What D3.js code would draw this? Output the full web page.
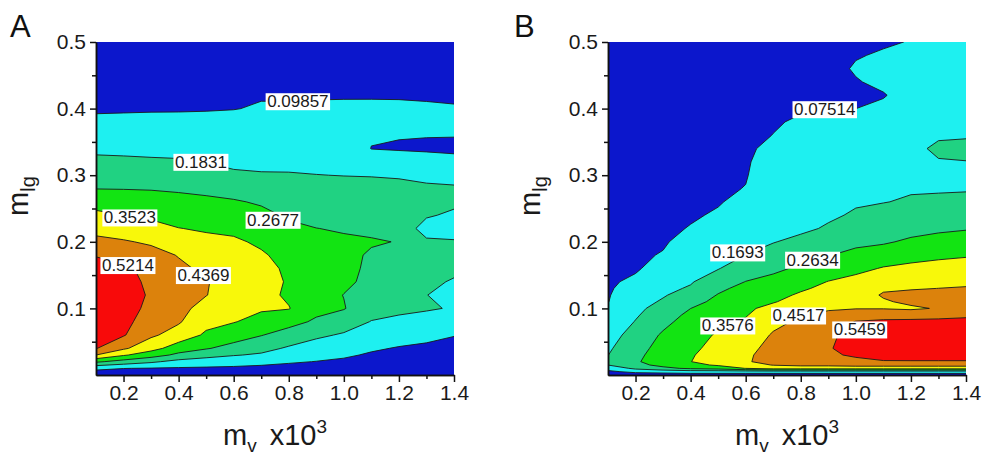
<!DOCTYPE html>
<html>
<head>
<meta charset="utf-8">
<script src="https://cdn.jsdelivr.net/npm/d3@7"></script>
<style>
  body { margin: 0; background: #fff; }
  text { font-family: "Liberation Sans", Arial, sans-serif; }
</style>
</head>
<body>
<div id="chart"></div>
<script>
// Dimensions
const width = 985;
const height = 474;

// m_v (x10^3) grid columns, shared by both panels
const mv = [0.1, 0.2, 0.3, 0.4, 0.5, 0.6, 0.7, 0.8, 0.9, 1.0, 1.1, 1.2, 1.3, 1.4];

// ---- Panel A ----
const mlgA = [0, 0.01, 0.02, 0.03, 0.04, 0.06, 0.08, 0.10, 0.12, 0.14, 0.16, 0.18, 0.20,
  0.22, 0.24, 0.26, 0.28, 0.30, 0.32, 0.34, 0.36, 0.38, 0.40, 0.42, 0.46, 0.50];
const levelsA = [0.09857, 0.1831, 0.2677, 0.3523, 0.4369, 0.5214];
// one column per m_v value, read from bottom (m_lg = 0) to top (m_lg = 0.5)
const surfaceA = [
  [0.05, 0.116, 0.282, 0.437, 0.525, 0.55, 0.58, 0.60, 0.59, 0.57, 0.545, 0.518, 0.458, 0.411, 0.370, 0.321, 0.266, 0.233, 0.200, 0.168, 0.139, 0.109, 0.092, 0.082, 0.061, 0.040],
  [0.05, 0.100, 0.234, 0.362, 0.449, 0.528, 0.550, 0.565, 0.565, 0.550, 0.535, 0.492, 0.444, 0.398, 0.352, 0.308, 0.265, 0.231, 0.197, 0.166, 0.138, 0.110, 0.093, 0.083, 0.062, 0.040],
  [0.05, 0.095, 0.197, 0.306, 0.383, 0.450, 0.470, 0.495, 0.510, 0.505, 0.500, 0.465, 0.426, 0.380, 0.337, 0.300, 0.263, 0.228, 0.193, 0.164, 0.138, 0.111, 0.094, 0.084, 0.063, 0.040],
  [0.05, 0.091, 0.157, 0.248, 0.310, 0.403, 0.445, 0.460, 0.468, 0.462, 0.452, 0.433, 0.394, 0.354, 0.322, 0.290, 0.258, 0.224, 0.190, 0.163, 0.137, 0.112, 0.094, 0.084, 0.063, 0.041],
  [0.05, 0.088, 0.144, 0.211, 0.274, 0.339, 0.377, 0.409, 0.439, 0.441, 0.422, 0.396, 0.371, 0.344, 0.314, 0.283, 0.250, 0.215, 0.181, 0.158, 0.135, 0.113, 0.095, 0.085, 0.064, 0.042],
  [0.05, 0.085, 0.133, 0.188, 0.238, 0.307, 0.356, 0.380, 0.400, 0.410, 0.400, 0.385, 0.365, 0.334, 0.305, 0.275, 0.236, 0.194, 0.169, 0.151, 0.133, 0.115, 0.097, 0.088, 0.068, 0.045],
  [0.05, 0.081, 0.120, 0.173, 0.208, 0.271, 0.327, 0.361, 0.378, 0.383, 0.375, 0.362, 0.339, 0.313, 0.287, 0.259, 0.224, 0.188, 0.169, 0.153, 0.136, 0.120, 0.103, 0.095, 0.075, 0.050],
  [0.05, 0.077, 0.106, 0.139, 0.173, 0.235, 0.294, 0.356, 0.340, 0.345, 0.340, 0.325, 0.305, 0.283, 0.258, 0.234, 0.211, 0.187, 0.170, 0.154, 0.138, 0.122, 0.107, 0.091, 0.075, 0.055],
  [0.05, 0.073, 0.097, 0.121, 0.146, 0.198, 0.256, 0.290, 0.300, 0.305, 0.302, 0.295, 0.285, 0.2685, 0.247, 0.226, 0.205, 0.184, 0.169, 0.154, 0.140, 0.125, 0.109, 0.093, 0.077, 0.060],
  [0.05, 0.069, 0.088, 0.108, 0.130, 0.174, 0.224, 0.272, 0.266, 0.282, 0.285, 0.281, 0.277, 0.262, 0.242, 0.221, 0.201, 0.182, 0.167, 0.153, 0.139, 0.124, 0.109, 0.094, 0.080, 0.065],
  [0.05, 0.064, 0.077, 0.091, 0.107, 0.145, 0.180, 0.215, 0.238, 0.250, 0.256, 0.262, 0.272, 0.258, 0.243, 0.225, 0.205, 0.180, 0.140, 0.097, 0.105, 0.110, 0.107, 0.095, 0.083, 0.068],
  [0.05, 0.061, 0.072, 0.083, 0.094, 0.128, 0.166, 0.200, 0.215, 0.228, 0.238, 0.250, 0.266, 0.252, 0.237, 0.222, 0.205, 0.175, 0.137, 0.092, 0.102, 0.112, 0.108, 0.094, 0.085, 0.070],
  [0.05, 0.059, 0.068, 0.077, 0.087, 0.115, 0.155, 0.190, 0.184, 0.200, 0.210, 0.205, 0.200, 0.140, 0.195, 0.200, 0.192, 0.170, 0.130, 0.088, 0.101, 0.111, 0.105, 0.093, 0.086, 0.072],
  [0.05, 0.057, 0.064, 0.071, 0.078, 0.101, 0.150, 0.178, 0.165, 0.176, 0.200, 0.215, 0.195, 0.120, 0.165, 0.205, 0.192, 0.158, 0.121, 0.084, 0.101, 0.110, 0.103, 0.090, 0.085, 0.073]
];
// where each level label sits (data units)
const labelMvA  = [0.833, 0.481, 0.743, 0.223, 0.490, 0.216];
const labelMlgA = [0.411, 0.320, 0.233, 0.2365, 0.150, 0.165];

// ---- Panel B ----
const mlgB = [0, 0.005, 0.01, 0.015, 0.02, 0.03, 0.04, 0.06, 0.08, 0.09, 0.10, 0.11, 0.12, 0.13, 0.14,
  0.16, 0.18, 0.20, 0.22, 0.24, 0.26, 0.28, 0.30, 0.32, 0.34, 0.36, 0.38, 0.40, 0.42, 0.44, 0.46, 0.48, 0.50];
const levelsB = [0.07514, 0.1693, 0.2634, 0.3576, 0.4517, 0.5459];
const surfaceB = [
  [0.03, 0.06, 0.106, 0.17, 0.188, 0.168, 0.157, 0.132, 0.107, 0.095, 0.082, 0.073, 0.070, 0.067, 0.064, 0.058, 0.053, 0.048, 0.045, 0.042, 0.040, 0.038, 0.036, 0.034, 0.032, 0.030, 0.029, 0.027, 0.026, 0.025, 0.024, 0.022, 0.020],
  [0.03, 0.095, 0.19, 0.235, 0.25, 0.24, 0.228, 0.205, 0.173, 0.160, 0.150, 0.136, 0.122, 0.105, 0.090, 0.066, 0.060, 0.055, 0.051, 0.048, 0.045, 0.043, 0.041, 0.039, 0.037, 0.035, 0.033, 0.031, 0.029, 0.027, 0.025, 0.023, 0.021],
  [0.03, 0.106, 0.24, 0.29, 0.32, 0.31, 0.298, 0.275, 0.24, 0.22, 0.20, 0.179, 0.162, 0.149, 0.135, 0.108, 0.081, 0.065, 0.060, 0.056, 0.053, 0.050, 0.047, 0.045, 0.043, 0.041, 0.039, 0.036, 0.034, 0.032, 0.029, 0.026, 0.023],
  [0.03, 0.12, 0.28, 0.33, 0.356, 0.35, 0.34, 0.32, 0.30, 0.285, 0.263, 0.235, 0.206, 0.178, 0.162, 0.145, 0.128, 0.110, 0.079, 0.067, 0.062, 0.058, 0.055, 0.052, 0.049, 0.046, 0.043, 0.040, 0.037, 0.034, 0.031, 0.028, 0.025],
  [0.03, 0.12, 0.30, 0.37, 0.40, 0.395, 0.385, 0.368, 0.337, 0.32, 0.302, 0.285, 0.268, 0.245, 0.22, 0.165, 0.145, 0.124, 0.103, 0.083, 0.070, 0.065, 0.061, 0.058, 0.055, 0.052, 0.049, 0.046, 0.043, 0.040, 0.037, 0.033, 0.030],
  [0.03, 0.12, 0.36, 0.42, 0.445, 0.44, 0.43, 0.40, 0.368, 0.352, 0.338, 0.324, 0.308, 0.29, 0.265, 0.22, 0.17, 0.152, 0.135, 0.118, 0.095, 0.077, 0.071, 0.068, 0.064, 0.061, 0.058, 0.055, 0.051, 0.047, 0.043, 0.039, 0.035],
  [0.03, 0.12, 0.40, 0.455, 0.475, 0.48, 0.475, 0.46, 0.43, 0.41, 0.39, 0.35, 0.33, 0.305, 0.285, 0.248, 0.21, 0.165, 0.155, 0.145, 0.135, 0.125, 0.115, 0.105, 0.092, 0.076, 0.07, 0.066, 0.062, 0.058, 0.054, 0.05, 0.046],
  [0.03, 0.12, 0.40, 0.47, 0.495, 0.505, 0.51, 0.495, 0.465, 0.445, 0.425, 0.40, 0.37, 0.345, 0.325, 0.275, 0.235, 0.195, 0.15, 0.14, 0.131, 0.122, 0.114, 0.106, 0.098, 0.09, 0.082, 0.07, 0.066, 0.062, 0.058, 0.054, 0.05],
  [0.03, 0.12, 0.40, 0.47, 0.50, 0.53, 0.54, 0.53, 0.49, 0.465, 0.445, 0.42, 0.40, 0.38, 0.36, 0.31, 0.26, 0.22, 0.18, 0.155, 0.145, 0.136, 0.127, 0.118, 0.109, 0.10, 0.09, 0.072, 0.067, 0.063, 0.059, 0.055, 0.051],
  [0.03, 0.12, 0.40, 0.48, 0.52, 0.56, 0.575, 0.575, 0.55, 0.50, 0.448, 0.44, 0.43, 0.41, 0.39, 0.33, 0.285, 0.245, 0.215, 0.18, 0.16, 0.15, 0.14, 0.13, 0.12, 0.11, 0.095, 0.075, 0.068, 0.072, 0.08, 0.072, 0.065],
  [0.03, 0.12, 0.40, 0.48, 0.54, 0.575, 0.595, 0.60, 0.57, 0.49, 0.449, 0.447, 0.456, 0.446, 0.415, 0.365, 0.30, 0.255, 0.23, 0.205, 0.166, 0.155, 0.145, 0.135, 0.125, 0.115, 0.10, 0.085, 0.072, 0.085, 0.095, 0.08, 0.07],
  [0.03, 0.12, 0.40, 0.48, 0.54, 0.58, 0.60, 0.61, 0.58, 0.48, 0.445, 0.46, 0.465, 0.448, 0.43, 0.38, 0.325, 0.275, 0.24, 0.215, 0.18, 0.16, 0.15, 0.145, 0.14, 0.125, 0.11, 0.102, 0.095, 0.092, 0.09, 0.082, 0.077],
  [0.03, 0.12, 0.40, 0.48, 0.54, 0.58, 0.60, 0.61, 0.58, 0.50, 0.455, 0.47, 0.468, 0.452, 0.438, 0.39, 0.34, 0.29, 0.25, 0.22, 0.183, 0.162, 0.155, 0.162, 0.19, 0.155, 0.135, 0.125, 0.117, 0.11, 0.104, 0.098, 0.092],
  [0.03, 0.12, 0.40, 0.48, 0.54, 0.58, 0.60, 0.61, 0.585, 0.52, 0.47, 0.475, 0.47, 0.456, 0.44, 0.395, 0.35, 0.30, 0.258, 0.228, 0.197, 0.16, 0.162, 0.167, 0.195, 0.16, 0.14, 0.13, 0.122, 0.115, 0.108, 0.102, 0.096]
];
const labelMvB  = [0.887, 0.571, 0.843, 0.535, 0.792, 1.014];
const labelMlgB = [0.399, 0.184, 0.173, 0.0743, 0.0893, 0.0683];

// Axis ticks
const xMajor = [0.2, 0.4, 0.6, 0.8, 1.0, 1.2, 1.4];
const xMinor = [0.3, 0.5, 0.7, 0.9, 1.1, 1.3];
const yMajor = [0.1, 0.2, 0.3, 0.4, 0.5];
const yMinor = [0.05, 0.15, 0.25, 0.35, 0.45];

// band colours, lowest band first
const bandColors = ["#0c17cc", "#1ef0f0", "#20d282", "#12e412", "#f8f80a", "#dc820c", "#f80a0a"];

const svg = d3.select("#chart").append("svg")
    .attr("width", width)
    .attr("height", height);

function drawPanel(opt) {
    const x = d3.scaleLinear().domain([0.1, 1.4]).range([opt.left, opt.left + 358]);
    const y = d3.scaleLinear().domain([0, 0.5]).range([375, 42]);

    const n = mv.length, m = opt.mlg.length;
    const values = [];
    for (let j = 0; j < m; j++) for (let i = 0; i < n; i++) values.push(opt.surface[i][j]);

    // grid index -> data value (grid point i sits at i + 0.5 in contour space)
    const gx = d3.scaleLinear().domain(d3.range(n).map(i => i + 0.5)).range(mv);
    const gy = d3.scaleLinear().domain(d3.range(m).map(j => j + 0.5)).range(opt.mlg);
    const path = d3.geoPath(d3.geoTransform({
        point(px, py) { this.stream.point(x(gx(px)), y(gy(py))); }
    }));

    const bands = d3.contours().size([n, m]).thresholds(opt.levels)(values);

    const clipId = "clip" + opt.name;
    svg.append("clipPath").attr("id", clipId)
      .append("rect")
        .attr("x", x(0.1)).attr("y", y(0.5))
        .attr("width", x(1.4) - x(0.1)).attr("height", y(0) - y(0.5));

    const plot = svg.append("g").attr("clip-path", `url(#${clipId})`);
    plot.append("rect")
        .attr("x", x(0.1)).attr("y", y(0.5))
        .attr("width", x(1.4) - x(0.1)).attr("height", y(0) - y(0.5))
        .attr("fill", bandColors[0]);

    plot.selectAll("path.band")
      .data(bands)
      .enter().append("path")
        .attr("class", "band")
        .attr("d", path)
        .attr("fill", (d, i) => bandColors[i + 1])
        .attr("fill-rule", "evenodd");

    plot.selectAll("path.line")
      .data(bands)
      .enter().append("path")
        .attr("class", "line")
        .attr("d", path)
        .attr("fill", "none")
        .attr("stroke", "#1a1a1a")
        .attr("stroke-width", 0.9);

    // level labels in white boxes
    const lab = svg.append("g").selectAll("g")
      .data(opt.levels)
      .enter().append("g");
    lab.append("rect").attr("fill", "#fff");
    lab.append("text")
        .attr("x", (d, k) => x(opt.labelMv[k]))
        .attr("y", (d, k) => y(opt.labelMlg[k]))
        .attr("dy", "0.35em")
        .attr("text-anchor", "middle")
        .attr("font-size", 17)
        .attr("fill", "#1a1a1a")
        .text(d => String(d));
    lab.each(function() {
        const b = d3.select(this).select("text").node().getBBox();
        d3.select(this).select("rect")
            .attr("x", b.x - 1.5).attr("y", b.y + 1)
            .attr("width", b.width + 3).attr("height", b.height - 2);
    });

    // axes
    const styleAxis = g => {
        g.selectAll(".domain, line").attr("stroke", "#111").attr("stroke-width", 1.5);
        g.selectAll("text").attr("font-size", 21).attr("fill", "#1a1a1a")
            .attr("font-family", "Liberation Sans, Arial, sans-serif");
    };
    svg.append("g").attr("transform", `translate(0,${y(0)})`)
        .call(d3.axisBottom(x).tickValues(xMinor).tickSize(4).tickSizeOuter(0).tickFormat(""))
        .call(styleAxis);
    svg.append("g").attr("transform", `translate(0,${y(0)})`)
        .call(d3.axisBottom(x).tickValues(xMajor).tickSize(7).tickSizeOuter(0).tickPadding(3)
            .tickFormat(d3.format(".1f")))
        .call(styleAxis);
    svg.append("g").attr("transform", `translate(${x(0.1)},0)`)
        .call(d3.axisLeft(y).tickValues(yMinor).tickSize(4).tickSizeOuter(0).tickFormat(""))
        .call(styleAxis);
    svg.append("g").attr("transform", `translate(${x(0.1)},0)`)
        .call(d3.axisLeft(y).tickValues(yMajor).tickSize(6).tickSizeOuter(0).tickPadding(4)
            .tickFormat(d3.format(".1f")))
        .call(styleAxis);

    // axis titles
    const yt = svg.append("text")
        .attr("transform", `translate(${opt.left - 68},196) rotate(-90)`)
        .attr("text-anchor", "middle")
        .attr("font-size", 29)
        .attr("fill", "#1a1a1a");
    yt.append("tspan").text("m");
    yt.append("tspan").attr("dy", 7).attr("font-size", 20).text("lg");

    const xt = svg.append("text")
        .attr("x", (x(0.1) + x(1.4)) / 2)
        .attr("y", 445)
        .attr("text-anchor", "middle")
        .attr("font-size", 29)
        .attr("fill", "#1a1a1a");
    xt.append("tspan").text("m");
    xt.append("tspan").attr("dy", 7).attr("font-size", 19).text("v");
    xt.append("tspan").attr("dy", -7).attr("dx", 13).text("x10");
    xt.append("tspan").attr("dy", -12).attr("font-size", 19).text("3");

    svg.append("text")
        .attr("x", opt.letterX).attr("y", 37)
        .attr("font-size", 31)
        .attr("fill", "#111")
        .text(opt.name);
}

drawPanel({ name: "A", left: 96, letterX: 10, mlg: mlgA, surface: surfaceA, levels: levelsA,
            labelMv: labelMvA, labelMlg: labelMlgA });
drawPanel({ name: "B", left: 608, letterX: 514, mlg: mlgB, surface: surfaceB, levels: levelsB,
            labelMv: labelMvB, labelMlg: labelMlgB });
</script>
</body>
</html>
